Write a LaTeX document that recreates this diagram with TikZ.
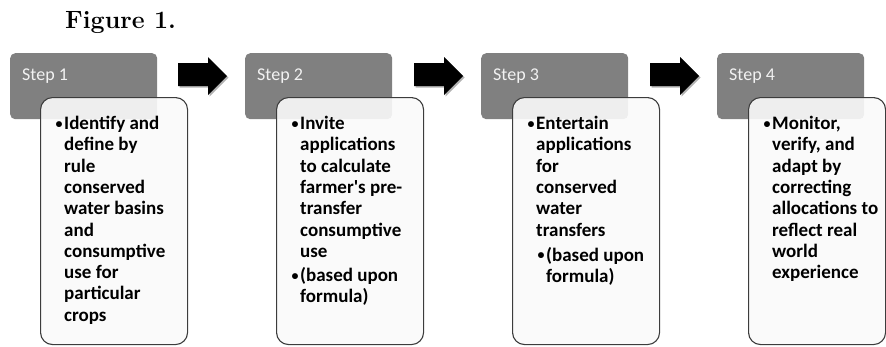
\documentclass[tikz,border=0pt]{standalone}
\usepackage{fontspec}
\newfontfamily\calibfont{Carlito}
\definecolor{headgrey}{HTML}{808080}
\definecolor{headtext}{HTML}{F2F2F2}
\definecolor{edgegrey}{HTML}{3C3C3C}
\usetikzlibrary{positioning}
\newcommand{\stepbul}{\llap{\raisebox{1.3pt}{\fontsize{14}{14}\selectfont•}\hspace{1.5pt}}}

\begin{document}
\begin{tikzpicture}[x=1pt, y=-1pt,
      headbox/.style={fill=headgrey, rounded corners=5pt, anchor=north west,
                    minimum width=147pt, minimum height=66pt, inner sep=0pt},
      bodybox/.style={draw=edgegrey, line width=1.1pt, fill=white!98!black,
                    fill opacity=0.9, rounded corners=12pt, anchor=north west,
                    minimum width=147pt, minimum height=247pt, inner sep=0pt},
      steplabel/.style={text=headtext, anchor=base west, inner sep=0pt,
                    font=\calibfont\fontsize{18}{21}\selectfont},
      bodytext/.style={anchor=north west, align=left, inner sep=0pt,
                    font=\calibfont\bfseries\fontsize{19}{21.3}\selectfont},
      blockarr/.style={fill=black},
      arrshadow/.style={fill=black!30}
    ]
      \useasboundingbox (0,0) rectangle (886,346);

      \node[anchor=base west, inner sep=0pt, font=\bfseries\fontsize{25}{28}\selectfont]
        (title) at (65,28) {Figure 1.};

      % step headers
      \node[headbox] (head1) at (10,53) {};
      \node[headbox] (head2) at (245,53) {};
      \node[headbox] (head3) at (481,53) {};
      \node[headbox] (head4) at (717,53) {};
      \node[steplabel] at ([xshift=12pt,yshift=-27pt]head1.north west) {Step 1};
      \node[steplabel] at ([xshift=12pt,yshift=-27pt]head2.north west) {Step 2};
      \node[steplabel] at ([xshift=12pt,yshift=-27pt]head3.north west) {Step 3};
      \node[steplabel] at ([xshift=12pt,yshift=-27pt]head4.north west) {Step 4};

      % step bodies
      \node[bodybox] (body1) at ([xshift=30pt,yshift=-44pt]head1.north west) {};
      \node[bodybox] (body2) at ([xshift=31pt,yshift=-44pt]head2.north west) {};
      \node[bodybox] (body3) at ([xshift=31pt,yshift=-44pt]head3.north west) {};
      \node[bodybox, minimum width=137pt] (body4) at ([xshift=31pt,yshift=-44pt]head4.north west) {};

      \node[bodytext] (txt1) at ([xshift=24pt,yshift=-19pt]body1.north west)
        {\stepbul Identify and\\define by\\rule\\conserved\\water basins\\and\\consumptive\\use for\\particular\\crops};
      \node[bodytext] (txt2) at ([xshift=24pt,yshift=-19pt]body2.north west)
        {\stepbul Invite\\applications\\to calculate\\farmer's pre-\\transfer\\consumptive\\use\\[2.7pt]\stepbul(based upon\\formula)};
      \node[bodytext] (txt3) at ([xshift=24pt,yshift=-19pt]body3.north west)
        {\stepbul Entertain\\applications\\for\\conserved\\water\\transfers\\[3.7pt]\hspace*{10pt}\stepbul(based upon\\\hspace*{10pt}formula)};
      \node[bodytext] (txt4) at ([xshift=24pt,yshift=-19pt]body4.north west)
        {\stepbul Monitor,\\verify, and\\adapt by\\correcting\\allocations to\\reflect real\\world\\experience};

      % block arrows between the steps
      \foreach \x in {178,414,650} {
        \fill[arrshadow] (\x+1.5,64.5) -- (\x+31.5,64.5) -- (\x+31.5,58.5) -- (\x+50.5,77.5)
          -- (\x+31.5,96.5) -- (\x+31.5,87.5) -- (\x+1.5,87.5) -- cycle;
        \fill[blockarr] (\x,63) -- (\x+30,63) -- (\x+30,57) -- (\x+49,76)
          -- (\x+30,95) -- (\x+30,86) -- (\x,86) -- cycle;
      }
    \end{tikzpicture}
\end{document}
